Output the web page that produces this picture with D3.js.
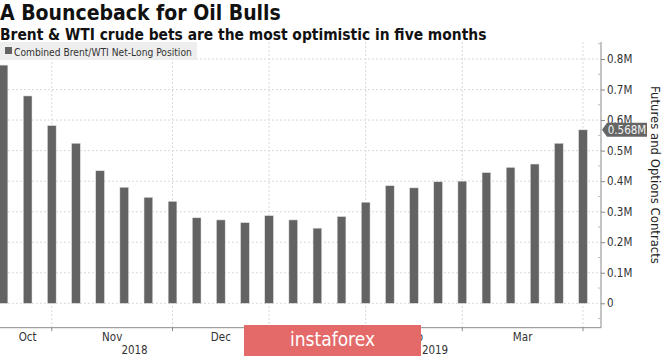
<!DOCTYPE html>
<html><head><meta charset="utf-8">
<script src="https://cdn.jsdelivr.net/npm/d3@7/dist/d3.min.js"></script>
<style>body{margin:0;background:#fff;overflow:hidden}svg{display:block}</style>
</head><body>
<script>
// ---- data ----
const netLong = [0.780,0.679,0.582,0.524,0.434,0.380,0.347,0.334,0.280,0.273,0.264,0.287,0.273,0.246,0.284,0.331,0.385,0.378,0.398,0.400,0.428,0.445,0.456,0.524,0.568];
const monthLabels = ["Oct","Nov","Dec","Jan","Feb","Mar"];
const monthStarts = [0,2,7,11,15,19];   // index of first bar of each month
const monthTickIdx = [2,7,11,15,19,24];
const yearLabels = ["2018","2019"];
const yearStarts = [0,11];
const yTicks = [0,0.1,0.2,0.3,0.4,0.5,0.6,0.7,0.8];
const yTickLabels = ["0","0.1M","0.2M","0.3M","0.4M","0.5M","0.6M","0.7M","0.8M"];
const lastLabel = "0.568M";
const title = "A Bounceback for Oil Bulls";
const subtitle = "Brent & WTI crude bets are the most optimistic in five months";
const legendLabel = "Combined Brent/WTI Net-Long Position";
const axisTitle = "Futures and Options Contracts";

const W = 665, H = 356;
const FONT = "'DejaVu Sans Condensed','DejaVu Sans',sans-serif";
const svg = d3.select("body").append("svg").attr("width", W).attr("height", H);

const axisX = 601;
const x = d3.scalePoint().domain(d3.range(netLong.length)).range([3.5, 583]);
const y = d3.scaleLinear().domain([0, 0.8]).range([303.3, 59]);
const plotTop = 42, plotBottom = 327.7;
const barW = 8.7;

// gridlines
const grid = svg.append("g");
grid.selectAll("line.h").data(yTicks).join("line")
  .attr("x1", 0).attr("x2", axisX).attr("y1", d => y(d)).attr("y2", d => y(d))
  .attr("stroke", "#d9d9d9").attr("stroke-width", 1).attr("stroke-dasharray", "2,2");
grid.selectAll("line.v").data(monthTickIdx).join("line")
  .attr("x1", d => x(d)).attr("x2", d => x(d)).attr("y1", plotTop).attr("y2", plotBottom)
  .attr("stroke", "#d9d9d9").attr("stroke-width", 1).attr("stroke-dasharray", "2,2");

// bars
svg.append("g").selectAll("rect").data(netLong).join("rect")
  .attr("x", (d, i) => x(i) - barW / 2).attr("width", barW)
  .attr("y", d => y(d)).attr("height", d => y(0) - y(d))
  .attr("fill", "#636363").attr("stroke", "#e0e0e0").attr("stroke-width", 0.5);

// axes lines
svg.append("line").attr("x1", 0).attr("x2", axisX).attr("y1", plotBottom).attr("y2", plotBottom)
  .attr("stroke", "#8a8a8a").attr("stroke-width", 1);
svg.append("line").attr("x1", axisX).attr("x2", axisX).attr("y1", plotTop).attr("y2", plotBottom)
  .attr("stroke", "#8a8a8a").attr("stroke-width", 1);

// y axis ticks + labels
const yAxis = d3.axisRight(y).tickValues(yTicks).tickSize(4).tickPadding(2)
  .tickFormat((d, i) => yTickLabels[i]);
const ya = svg.append("g").attr("transform", `translate(${axisX},0)`).call(yAxis);
ya.select(".domain").remove();
ya.selectAll(".tick line").attr("stroke", "#8a8a8a");
ya.selectAll(".tick text").attr("fill", "#333").style("font", `11.5px ${FONT}`);
// minor ticks
const minor = d3.range(-0.05, 0.86, 0.1);
svg.append("g").selectAll("line").data(minor).join("line")
  .attr("x1", axisX - 3).attr("x2", axisX).attr("y1", d => y(d)).attr("y2", d => y(d))
  .attr("stroke", "#bdbdbd");

// x ticks
svg.append("g").selectAll("line").data(monthTickIdx).join("line")
  .attr("x1", d => x(d)).attr("x2", d => x(d)).attr("y1", plotBottom).attr("y2", plotBottom + 3.5)
  .attr("stroke", "#8a8a8a");
// month labels
const monthEnds = monthStarts.slice(1).concat([netLong.length - 1]);
svg.append("g").selectAll("text").data(monthLabels).join("text")
  .attr("x", (d, i) => (x(monthStarts[i]) + x(monthEnds[i])) / 2)
  .attr("y", 341).attr("text-anchor", "middle").attr("fill", "#333")
  .style("font", `11.5px ${FONT}`).text(d => d);
// year labels
svg.append("g").selectAll("text").data(yearLabels).join("text")
  .attr("x", (d, i) => {
    const a = i === 0 ? 0 : x(yearStarts[i]);
    const b = i + 1 < yearStarts.length ? x(yearStarts[i + 1]) : axisX;
    return (a + b) / 2;
  })
  .attr("y", 354).attr("text-anchor", "middle").attr("fill", "#333")
  .style("font", `11.5px ${FONT}`).text(d => d);

// last value marker
const lv = netLong[netLong.length - 1];
const ly = y(lv);
svg.append("path")
  .attr("d", `M${axisX + 1},${ly} L${axisX + 6},${ly - 7} L${axisX + 46},${ly - 7} L${axisX + 46},${ly + 7} L${axisX + 6},${ly + 7} Z`)
  .attr("fill", "#666");
svg.append("text").attr("x", axisX + 26).attr("y", ly).attr("dy", "0.36em")
  .attr("text-anchor", "middle").attr("fill", "#f2f2f2")
  .style("font", `11.5px ${FONT}`).text(lastLabel);

// axis title
svg.append("text").attr("transform", `translate(651,175) rotate(90)`)
  .attr("text-anchor", "middle").attr("fill", "#222")
  .style("font", `13px ${FONT}`).text(axisTitle);

// legend
svg.append("rect").attr("x", 0).attr("y", 42).attr("width", 197).attr("height", 18)
  .attr("fill", "#ececec").attr("opacity", 0.9);
svg.append("rect").attr("x", 5).attr("y", 47).attr("width", 7).attr("height", 7).attr("fill", "#636363");
svg.append("text").attr("x", 14).attr("y", 55.5).attr("fill", "#333")
  .style("font", `10.2px ${FONT}`).text(legendLabel);

// titles
svg.append("text").attr("x", 0).attr("y", 20).attr("fill", "#111")
  .style("font", `bold 21px ${FONT}`).text(title);
svg.append("text").attr("x", 0).attr("y", 40).attr("fill", "#111")
  .style("font", `bold 15.4px ${FONT}`).text(subtitle);

// watermark
svg.append("rect").attr("x", 244).attr("y", 325).attr("width", 177).attr("height", 31)
  .attr("fill", "#e46a6a");
svg.append("text").attr("x", 332.5).attr("y", 346).attr("text-anchor", "middle")
  .attr("fill", "#fff").style("font", `19px ${FONT}`).text("instaforex");
</script>
</body></html>
